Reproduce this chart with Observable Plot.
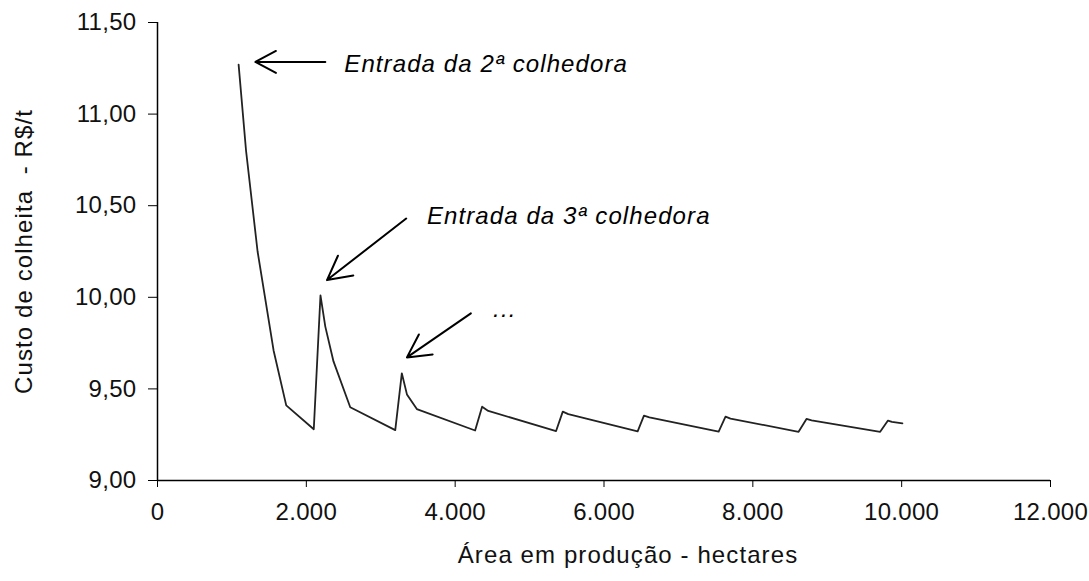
<!DOCTYPE html>
<html><head><meta charset="utf-8">
<script src="https://cdn.jsdelivr.net/npm/d3@7"></script>
<script src="https://cdn.jsdelivr.net/npm/@observablehq/plot@0.6"></script>
<style>
body{margin:0;background:#fff;}
svg text{white-space:pre;letter-spacing:1.1px;}
svg g[aria-label="x-axis tick label"] text, svg g[aria-label="y-axis tick label"] text{letter-spacing:0.3px;}
</style></head><body><div id="chart"></div>
<script>
// Área em produção (ha) and custo de colheita (R$/t)
const area = [1090,1190,1345,1560,1730,2100,2190,2255,2365,2590,3195,3283,3352,3485,4268,4362,4445,5356,5446,5520,6452,6537,6610,7541,7633,7700,8615,8721,8790,9711,9816,9870,10010];
const cost = [11.27,10.80,10.25,9.71,9.41,9.28,10.01,9.84,9.65,9.40,9.275,9.585,9.47,9.39,9.273,9.403,9.38,9.27,9.376,9.362,9.268,9.354,9.345,9.267,9.349,9.338,9.266,9.336,9.328,9.266,9.327,9.320,9.312];
const xTicks = [0,2000,4000,6000,8000,10000,12000];
const yTicks = [9,9.5,10,10.5,11,11.5];
const xTitle = "Área em produção - hectares";
const yTitle = "Custo de colheita  - R$/t";
const arrowFromX = [2255,3342,4211];
const arrowFromY = [11.285,10.43,9.912];
const arrowToX = [1315,2278,3352];
const arrowToY = [11.285,10.094,9.672];
const noteText = ["Entrada da 2ª colhedora","Entrada da 3ª colhedora","..."];
const noteX = [2510,3620,4510];
const noteY = [11.274,10.44,9.932];

const loc = d3.formatLocale({decimal:",", thousands:".", grouping:[3], currency:["R$",""]});
const fx = loc.format(",d");
const fy = loc.format(".2f");
const data = area.map((x,i)=>({x, y: cost[i]}));
const arrows = arrowFromX.map((x,i)=>({x1:x, y1:arrowFromY[i], x2:arrowToX[i], y2:arrowToY[i]}));
const notes = noteText.map((t,i)=>({t, x:noteX[i], y:noteY[i]}));

const chart = Plot.plot({
  width:1089, height:581,
  marginLeft:157, marginRight:39, marginTop:22, marginBottom:101,
  style:{fontFamily:"'Liberation Sans', Arial, sans-serif", fontSize:"24px", color:"#111", background:"#fff"},
  x:{domain:[0,12000]},
  y:{domain:[9,11.5]},
  marks:[
    Plot.ruleY([9], {stroke:"#000", strokeWidth:1.5}),
    Plot.ruleX([0], {stroke:"#000", strokeWidth:1.5}),
    Plot.axisX(xTicks, {tickFormat:fx, tickSize:7, tickPadding:15, label:null, stroke:"#000", strokeOpacity:1}),
    Plot.axisY(yTicks, {tickFormat:fy, tickSize:9, tickPadding:12, label:null, stroke:"#000", strokeOpacity:1}),
    Plot.text([xTitle], {frameAnchor:"bottom", lineAnchor:"middle", textAnchor:"middle", dy:75, dx:24, fontSize:24, fill:"#111"}),
    Plot.text([yTitle], {frameAnchor:"left", textAnchor:"middle", lineAnchor:"middle", dx:-133, rotate:-90, fontSize:24, fill:"#111"}),
    Plot.line(data, {x:"x", y:"y", stroke:"#222", strokeWidth:1.8}),
    Plot.arrow(arrows, {x1:"x1", y1:"y1", x2:"x2", y2:"y2", stroke:"#000", strokeWidth:2, headLength:20, headAngle:56}),
    Plot.text(notes, {x:"x", y:"y", text:"t", textAnchor:"start", fontStyle:"italic", fontSize:24, fill:"#000"})
  ]
});
document.getElementById("chart").appendChild(chart);
</script></body></html>
